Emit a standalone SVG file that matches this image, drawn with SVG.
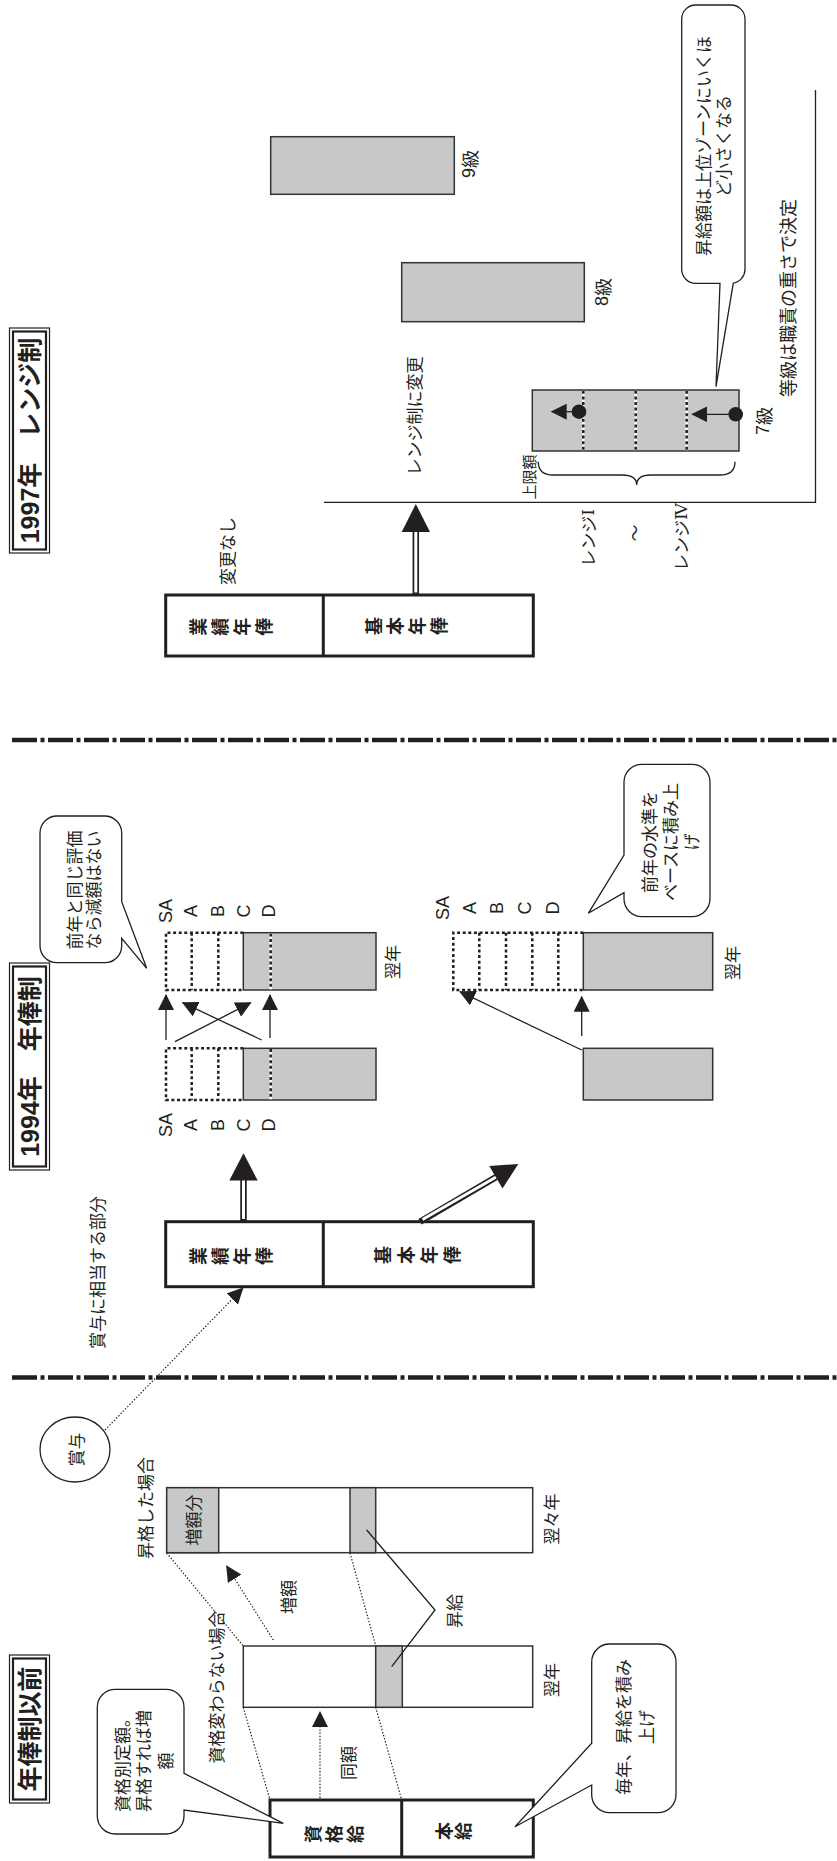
<svg xmlns="http://www.w3.org/2000/svg" width="837" height="1861" viewBox="0 0 837 1861">
<style>
text, tspan { font-family: "Noto Sans CJK JP", "Noto Sans CJK SC", sans-serif; fill: #231f20; text-anchor: middle; dominant-baseline: central; font-size: 17px; }
.lat, .lat tspan { font-family: "Liberation Sans", "Noto Sans CJK JP", sans-serif; font-size: 18px; }
.title { font-size: 25px; font-weight: bold; font-family: "Liberation Sans", "Noto Sans CJK JP", sans-serif; }
.bx, .bx tspan { font-size: 18px; font-weight: 600; }
.sm { font-size: 15px; }
.big { font-size: 18px; }
.rom { font-family: "DejaVu Serif", "Liberation Serif", serif; }
.tb-o { fill: #fff; stroke: #231f20; stroke-width: 1.2; }
.tb-i { fill: none; stroke: #231f20; stroke-width: 2.2; }
.box { fill: #fff; stroke: #231f20; stroke-width: 3; }
.bar { fill: #fff; stroke: #333; stroke-width: 1.5; }
.gray { fill: #c7c8ca; stroke: #333; stroke-width: 1.5; }
.dots { fill: none; stroke: #231f20; stroke-width: 2.5; stroke-dasharray: 3 2.6; }
.wline { stroke: #fff; stroke-width: 2.6; }
.thin { fill: none; stroke: #231f20; stroke-width: 1.3; }
.dotted { fill: none; stroke: #231f20; stroke-width: 1.2; stroke-dasharray: 1.4 1.8; }
.bubble { fill: #fff; stroke: #231f20; stroke-width: 1.3; }
.sep { fill: none; stroke: #231f20; stroke-width: 4.5; stroke-dasharray: 25 3.5 4 3.5; }
.dbl-o { stroke: #231f20; stroke-width: 6.5; }
.dbl-i { stroke: #fff; stroke-width: 3; }
.head { fill: #231f20; }
</style>
<defs>
<marker id="ah" viewBox="0 0 16 16" markerWidth="16" markerHeight="16" refX="15" refY="8" orient="auto" markerUnits="userSpaceOnUse">
<path d="M0,0 L16,8 L0,16 Z" fill="#231f20"/>
</marker>
</defs>
<rect width="837" height="1861" fill="#fff"/>

<g id="separators">
<line class="sep" x1="12" y1="1377.5" x2="837" y2="1377.5"/>
<line class="sep" x1="12" y1="740" x2="837" y2="740"/>
</g>

<!-- ===== Section 1: 年俸制以前 ===== -->
<g id="title1">
<rect class="tb-o" x="9.5" y="1655" width="40" height="148"/>
<rect class="tb-i" x="13" y="1658.5" width="33" height="141"/>
<text class="title" transform="translate(29.5,1729) rotate(-90)">年俸制以前</text>
</g>

<g id="bonus-circle">
<ellipse cx="75" cy="1449.5" rx="35" ry="32.5" fill="#fff" stroke="#231f20" stroke-width="1.3"/>
<text transform="translate(75,1449.5) rotate(-90)">賞与</text>
</g>

<g id="bar-yokuyokunen">
<rect class="bar" x="166.7" y="1487.7" width="366" height="65"/>
<rect class="gray" x="166.7" y="1487.7" width="52" height="65"/>
<rect class="gray" x="350" y="1487.7" width="25.7" height="65"/>
<text transform="translate(192,1520) rotate(-90)">増額分</text>
<text transform="translate(550,1519) rotate(-90)">翌々年</text>
<text transform="translate(144,1508) rotate(-90)">昇格した場合</text>
</g>

<g id="bar-yokunen1">
<rect class="bar" x="243.3" y="1646" width="289.4" height="61.3"/>
<rect class="gray" x="375.7" y="1646" width="26.6" height="61.3"/>
<text transform="translate(550,1680) rotate(-90)">翌年</text>
<text transform="translate(215,1687) rotate(-90)">資格変わらない場合</text>
</g>

<g id="box-shikaku-honkyu">
<rect class="box" x="270" y="1800" width="263.3" height="57"/>
<line x1="401.7" y1="1800" x2="401.7" y2="1857" stroke="#231f20" stroke-width="3"/>
<text class="bx" transform="translate(312,1834) rotate(-90)"><tspan x="0" y="0">資</tspan><tspan x="0" y="21">格</tspan><tspan x="0" y="42">給</tspan></text>
<text class="bx" transform="translate(443,1831) rotate(-90)"><tspan x="0" y="0">本</tspan><tspan x="0" y="19">給</tspan></text>
</g>

<g id="bubble1">
<path class="bubble" d="M115.3,1689.3 H166 A18,18 0 0 1 184,1707.3 V1773.3 L283.3,1823.3 L184,1810 V1816 A18,18 0 0 1 166,1834 H115.3 A18,18 0 0 1 97.3,1816 V1707.3 A18,18 0 0 1 115.3,1689.3 Z"/>
<text transform="translate(120.7,1761) rotate(-90)"><tspan x="0" y="0">資格別定額。</tspan><tspan x="0" y="21.5">昇格すれば増</tspan><tspan x="0" y="43">額</tspan></text>
</g>

<g id="bubble2">
<path class="bubble" d="M609.7,1644 H658 A18,18 0 0 1 676,1662 V1794.7 A18,18 0 0 1 658,1812.7 H609.7 A18,18 0 0 1 591.7,1794.7 V1785 L515,1826.7 L591.7,1743.3 V1662 A18,18 0 0 1 609.7,1644 Z"/>
<text transform="translate(621.5,1727) rotate(-90)"><tspan x="0" y="0">毎年、昇給を積み</tspan><tspan x="0" y="23">上げ</tspan></text>
</g>

<!-- ===== Section 2: 1994年 年俸制 ===== -->
<g id="title2">
<rect class="tb-o" x="9.5" y="963" width="40" height="207"/>
<rect class="tb-i" x="13" y="966.5" width="33" height="200"/>
<text class="title" transform="translate(29.5,1066.5) rotate(-90)">1994年　年俸制</text>
</g>

<text id="label-bonus-part" transform="translate(96,1272.5) rotate(-90)">賞与に相当する部分</text>

<g id="box-1994">
<rect class="box" x="165.7" y="1221.7" width="367.6" height="65"/>
<line x1="323.3" y1="1221.7" x2="323.3" y2="1286.7" stroke="#231f20" stroke-width="3"/>
<text class="bx" transform="translate(197,1256) rotate(-90)"><tspan x="0" y="0">業</tspan><tspan x="0" y="22">績</tspan><tspan x="0" y="44">年</tspan><tspan x="0" y="66">俸</tspan></text>
<text class="bx" transform="translate(382,1255) rotate(-90)"><tspan x="0" y="0">基</tspan><tspan x="0" y="23">本</tspan><tspan x="0" y="46">年</tspan><tspan x="0" y="69">俸</tspan></text>
</g>

<g id="bars-gyoseki">
<rect class="gray" x="243.3" y="1048.3" width="132.7" height="51.7"/>
<line class="wline" x1="270.7" y1="1049" x2="270.7" y2="1099.3"/>
<line class="dots" x1="270.7" y1="1049" x2="270.7" y2="1099.3"/>
<path class="dots" d="M243.3,1048.3 H166 V1100 H243.3 M191.7,1048.3 V1100 M218.3,1048.3 V1100"/>
<rect class="gray" x="243.3" y="932.7" width="132.7" height="57.3"/>
<line class="wline" x1="270.7" y1="933.4" x2="270.7" y2="989.3"/>
<line class="dots" x1="270.7" y1="933.4" x2="270.7" y2="989.3"/>
<path class="dots" d="M243.3,932.7 H166 V990 H243.3 M191.7,932.7 V990 M218.3,932.7 V990"/>
<text class="lat" transform="translate(166,911) rotate(-90)">SA</text>
<text class="lat" transform="translate(191,911) rotate(-90)">A</text>
<text class="lat" transform="translate(217.5,911) rotate(-90)">B</text>
<text class="lat" transform="translate(244,911) rotate(-90)">C</text>
<text class="lat" transform="translate(269,911) rotate(-90)">D</text>
<text class="lat" transform="translate(166,1125) rotate(-90)">SA</text>
<text class="lat" transform="translate(191,1125) rotate(-90)">A</text>
<text class="lat" transform="translate(217.5,1125) rotate(-90)">B</text>
<text class="lat" transform="translate(244,1125) rotate(-90)">C</text>
<text class="lat" transform="translate(269,1125) rotate(-90)">D</text>
<text transform="translate(391.5,962) rotate(-90)">翌年</text>
</g>

<g id="bars-kihon">
<rect class="gray" x="583.3" y="1048.3" width="129.4" height="51.7"/>
<rect class="gray" x="583.3" y="932.7" width="129.4" height="57.3"/>
<path class="dots" d="M583.3,932.7 H453.3 V990 H583.3 M479.3,932.7 V990 M506,932.7 V990 M532.3,932.7 V990 M558.3,932.7 V990"/>
<text class="lat" transform="translate(442.5,908) rotate(-90)">SA</text>
<text class="lat" transform="translate(469.5,908) rotate(-90)">A</text>
<text class="lat" transform="translate(496.7,908) rotate(-90)">B</text>
<text class="lat" transform="translate(524.5,908) rotate(-90)">C</text>
<text class="lat" transform="translate(553,908) rotate(-90)">D</text>
<text transform="translate(731.5,963) rotate(-90)">翌年</text>
</g>

<g id="bubble3">
<path class="bubble" d="M57,816 H104.7 A17,17 0 0 1 121.7,833 V901.7 L146.7,968.3 L121.7,938.3 V945.7 A17,17 0 0 1 104.7,962.7 H57 A17,17 0 0 1 40,945.7 V833 A17,17 0 0 1 57,816 Z"/>
<text transform="translate(72.5,890) rotate(-90)"><tspan x="0" y="0">前年と同じ評価</tspan><tspan x="0" y="19.5">なら減額はない</tspan></text>
</g>

<g id="bubble4">
<path class="bubble" d="M642,764.3 H692 A18,18 0 0 1 710,782.3 V898.7 A18,18 0 0 1 692,916.7 H642 A18,18 0 0 1 624,898.7 V892.7 L588.3,913.3 L624,855 V782.3 A18,18 0 0 1 642,764.3 Z"/>
<text class="big" transform="translate(647.5,842) rotate(-90)"><tspan x="0" y="0">前年の水準を</tspan><tspan x="0" y="21">ベースに積み上</tspan><tspan x="0" y="42.5">げ</tspan></text>
</g>

<!-- ===== Section 3: 1997年 レンジ制 ===== -->
<g id="title3">
<rect class="tb-o" x="9.5" y="328" width="40" height="225"/>
<rect class="tb-i" x="13" y="331.5" width="33" height="218"/>
<text class="title" transform="translate(29.5,440.5) rotate(-90)">1997年　レンジ制</text>
</g>

<text id="label-nochange" transform="translate(226.7,551) rotate(-90)">変更なし</text>

<g id="box-1997">
<rect class="box" x="165.7" y="595" width="367.6" height="61"/>
<line x1="323.3" y1="595" x2="323.3" y2="656" stroke="#231f20" stroke-width="3"/>
<text class="bx" transform="translate(197,626.7) rotate(-90)"><tspan x="0" y="0">業</tspan><tspan x="0" y="22">績</tspan><tspan x="0" y="44">年</tspan><tspan x="0" y="66">俸</tspan></text>
<text class="bx" transform="translate(372.5,626) rotate(-90)"><tspan x="0" y="0">基</tspan><tspan x="0" y="21.7">本</tspan><tspan x="0" y="43.4">年</tspan><tspan x="0" y="65.1">俸</tspan></text>
</g>

<text id="label-range" transform="translate(413,416) rotate(-90)">レンジ制に変更</text>

<g id="axis">
<polyline class="thin" points="324,502.3 815.5,502.3 815.5,90"/>
</g>

<g id="grade9">
<rect class="gray" x="270.7" y="136.7" width="183.6" height="57.6"/>
<text class="lat" transform="translate(469,164) rotate(-90)">9<tspan style="font-family:'Noto Sans CJK JP',sans-serif">級</tspan></text>
</g>
<g id="grade8">
<rect class="gray" x="401.7" y="262.7" width="182.6" height="59"/>
<text class="lat" transform="translate(601.7,292) rotate(-90)">8<tspan style="font-family:'Noto Sans CJK JP',sans-serif">級</tspan></text>
</g>
<g id="grade7">
<rect class="gray" x="532.3" y="390" width="206.7" height="61"/>
<line class="wline" x1="583.3" y1="390.8" x2="583.3" y2="450.2"/>
<line class="dots" x1="583.3" y1="390.8" x2="583.3" y2="450.2"/>
<line class="wline" x1="635.7" y1="390.8" x2="635.7" y2="450.2"/>
<line class="dots" x1="635.7" y1="390.8" x2="635.7" y2="450.2"/>
<line class="wline" x1="686.7" y1="390.8" x2="686.7" y2="450.2"/>
<line class="dots" x1="686.7" y1="390.8" x2="686.7" y2="450.2"/>
<circle cx="579" cy="411.7" r="7.3" fill="#231f20"/>
<circle cx="735.7" cy="414.3" r="7.3" fill="#231f20"/>
<text class="lat" transform="translate(762.5,421) rotate(-90)">7<tspan style="font-family:'Noto Sans CJK JP',sans-serif">級</tspan></text>
<text class="sm" transform="translate(528,477) rotate(-90)">上限額</text>
<path class="thin" d="M538.3,461.7 Q538.3,475 553,475 L622,475 Q636.7,475 636.7,485 Q636.7,475 651,475 L720,475 Q735,475 735,461.7"/>
<text transform="translate(587.5,538) rotate(-90)">レンジ<tspan class="rom">Ⅰ</tspan></text>
<text transform="translate(633.3,533) rotate(-90)">〜</text>
<text transform="translate(680.5,537) rotate(-90)">レンジ<tspan class="rom">Ⅳ</tspan></text>
</g>

<g id="bubble5">
<path class="bubble" d="M695.7,5 H731 A14,14 0 0 1 745,19 V269.3 A14,14 0 0 1 733.3,283.1 L716,386.7 L720,283.3 H695.7 A14,14 0 0 1 681.7,269.3 V19 A14,14 0 0 1 695.7,5 Z"/>
<text transform="translate(701.5,146) rotate(-90)"><tspan x="0" y="0">昇給額は上位ゾーンにいくほ</tspan><tspan x="0" y="20">ど小さくなる</tspan></text>
</g>

<text id="label-grade" class="big" transform="translate(787,298) rotate(-90)">等級は職責の重さで決定</text>

<g id="connectors">
<line class="dotted" x1="166.7" y1="1553" x2="243.3" y2="1646"/>
<line class="dotted" x1="350" y1="1553" x2="375.7" y2="1646"/>
<line class="dotted" x1="243.3" y1="1707.3" x2="270" y2="1800"/>
<line class="dotted" x1="375.7" y1="1707.3" x2="401.7" y2="1800"/>
<line class="dotted" x1="320" y1="1798" x2="320" y2="1712" marker-end="url(#ah)"/>
<text transform="translate(347.5,1763) rotate(-90)">同額</text>
<line class="dotted" x1="273.3" y1="1640" x2="226.7" y2="1566" marker-end="url(#ah)"/>
<text transform="translate(287.5,1597) rotate(-90)">増額</text>
<polyline class="thin" points="366.7,1530 435,1610 391.7,1666.7"/>
<text transform="translate(453.5,1611) rotate(-90)">昇給</text>
<line class="dotted" x1="105" y1="1430" x2="242.7" y2="1288.3" marker-end="url(#ah)"/>

<line class="dbl-o" x1="243.5" y1="1221.7" x2="243.5" y2="1178"/>
<line class="dbl-i" x1="243.5" y1="1219" x2="243.5" y2="1178"/>
<polygon class="head" points="229.3,1180.5 257.7,1180.5 243.5,1153.3"/>
<line class="dbl-o" x1="420" y1="1221.7" x2="497.5" y2="1176.2"/>
<line class="dbl-i" x1="422.5" y1="1219.5" x2="497.5" y2="1176.2"/>
<polygon class="head" points="518.3,1164 502.5,1188.4 489.3,1166"/>

<line class="thin" x1="166" y1="1040" x2="166" y2="995" stroke-width="1.5" marker-end="url(#ah)"/>
<line class="thin" x1="270" y1="1038" x2="270" y2="995" stroke-width="1.5" marker-end="url(#ah)"/>
<line class="thin" x1="175" y1="1041.7" x2="250.7" y2="1002.7" stroke-width="1.5" marker-end="url(#ah)"/>
<line class="thin" x1="261.7" y1="1040" x2="182.7" y2="1002.7" stroke-width="1.5" marker-end="url(#ah)"/>
<line class="thin" x1="581.7" y1="1036" x2="581.7" y2="996.7" stroke-width="1.5" marker-end="url(#ah)"/>
<line class="thin" x1="581.7" y1="1050" x2="460" y2="991.7" stroke-width="1.5" marker-end="url(#ah)"/>

<line class="dbl-o" x1="415.8" y1="595" x2="415.8" y2="529"/>
<line class="dbl-i" x1="415.8" y1="592.5" x2="415.8" y2="529"/>
<polygon class="head" points="401.7,532 430,532 415.8,504"/>
<line class="thin" x1="579" y1="411.7" x2="551.7" y2="411.7" stroke-width="1.5" marker-end="url(#ah)"/>
<line class="thin" x1="735.7" y1="414.3" x2="692.3" y2="414.3" stroke-width="1.5" marker-end="url(#ah)"/>
</g>
</svg>
